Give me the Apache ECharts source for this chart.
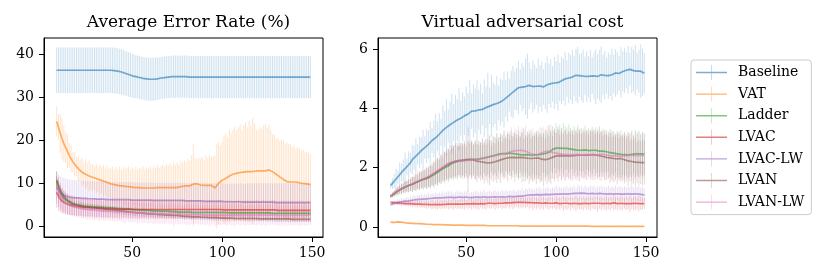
<!DOCTYPE html>
<html><head><meta charset="utf-8">
<script src="https://cdn.jsdelivr.net/npm/echarts@6/dist/echarts.min.js"></script>
<style>html,body{margin:0;padding:0;background:#fff}#c{width:830px;height:277px}</style>
</head><body><div id="c"></div>
<script>
// ---------- DATA ----------
const EPOCH_FIRST = 8, EPOCH_LAST = 149;
const epochs = [];
for (let e = EPOCH_FIRST; e <= EPOCH_LAST; e++) epochs.push(e);

const seriesNames = ['Baseline','VAT','Ladder','LVAC','LVAC-LW','LVAN','LVAN-LW'];
const panelTitles = ['Average Error Rate (%)','Virtual adversarial cost'];
const xTickValues = [50,100,150];
const yTickValuesErr = [0,10,20,30,40];
const yTickValuesCost = [0,2,4,6];

// ----- Panel 1: average error rate (%) : means and error half-widths -----
const errBaselineMean = [
36.3,36.3,36.3,36.3,36.3,36.3,36.3,36.3,36.3,36.3,
36.3,36.3,36.3,36.3,36.3,36.3,36.3,36.3,36.3,36.3,
36.3,36.3,36.3,36.3,36.3,36.3,36.3,36.3,36.3,36.3,
36.3,36.3,36.2,36.2,36.1,36.0,35.9,35.8,35.6,35.5,
35.3,35.2,35.0,34.9,34.8,34.7,34.6,34.5,34.4,34.3,
34.3,34.2,34.2,34.2,34.2,34.3,34.3,34.4,34.5,34.6,
34.6,34.7,34.7,34.7,34.8,34.8,34.8,34.8,34.8,34.8,
34.8,34.8,34.8,34.8,34.7,34.7,34.7,34.7,34.7,34.7,
34.7,34.7,34.7,34.7,34.7,34.7,34.7,34.7,34.7,34.7,
34.7,34.7,34.7,34.7,34.7,34.7,34.7,34.7,34.7,34.7,
34.7,34.7,34.7,34.7,34.7,34.7,34.7,34.7,34.7,34.7,
34.7,34.7,34.7,34.7,34.7,34.7,34.7,34.7,34.7,34.7,
34.7,34.7,34.7,34.7,34.7,34.7,34.7,34.7,34.7,34.7,
34.7,34.7,34.7,34.7,34.7,34.7,34.7,34.7,34.7,34.7,
34.7,34.7];
const errBaselineErr = [
5.3,5.3,5.3,5.3,5.3,5.3,5.3,5.3,5.3,5.3,
5.3,5.3,5.3,5.3,5.3,5.3,5.3,5.3,5.3,5.3,
5.3,5.3,5.3,5.3,5.3,5.3,5.3,5.3,5.3,5.3,
5.3,5.3,5.3,5.3,5.3,5.3,5.3,5.3,5.2,5.2,
5.2,5.1,5.1,5.1,5.0,5.0,5.0,5.0,5.0,5.0,
5.0,5.0,5.0,5.0,5.0,5.0,4.9,4.9,4.9,4.9,
4.9,4.9,4.9,4.9,4.9,4.9,4.9,4.9,4.9,4.9,
4.9,4.9,4.9,4.9,4.9,4.9,4.9,4.9,4.9,4.9,
4.9,4.9,4.9,4.9,4.9,4.9,4.9,4.9,4.9,4.9,
4.9,4.9,4.9,4.9,4.9,4.9,4.9,4.9,4.9,4.9,
4.9,4.9,4.9,4.9,4.9,4.9,4.9,4.9,4.9,4.9,
4.9,4.9,4.9,4.9,4.9,4.9,4.9,4.9,4.9,4.9,
4.9,4.9,4.9,4.9,4.9,4.9,4.9,4.9,4.9,4.9,
4.9,4.9,4.9,4.9,4.9,4.9,4.9,4.9,4.9,4.9,
4.9,4.9];
const errVatMean = [
24.4,23.0,21.6,20.3,19.2,18.3,17.4,16.5,15.7,15.0,
14.4,13.9,13.4,13.0,12.6,12.3,12.1,11.9,11.7,11.5,
11.4,11.2,11.1,10.9,10.8,10.7,10.5,10.3,10.2,10.0,
9.9,9.8,9.7,9.6,9.5,9.4,9.4,9.3,9.3,9.2,
9.2,9.1,9.1,9.1,9.0,9.0,9.0,9.0,8.9,8.9,
8.9,8.9,8.9,8.9,8.9,8.9,9.0,9.0,9.0,9.0,
9.0,9.0,9.0,9.0,9.0,9.0,9.0,9.1,9.1,9.2,
9.3,9.3,9.4,9.4,9.4,9.5,9.8,9.9,9.9,9.7,
9.6,9.5,9.5,9.6,9.5,9.5,9.5,9.1,8.9,9.3,
10.0,10.4,10.7,10.9,11.1,11.4,11.7,11.9,12.1,12.2,
12.3,12.4,12.5,12.6,12.6,12.6,12.7,12.7,12.7,12.8,
12.8,12.8,12.9,12.9,12.9,12.9,12.9,13.0,13.1,12.9,
12.7,12.4,12.1,11.8,11.5,11.2,10.9,10.6,10.4,10.3,
10.3,10.3,10.3,10.2,10.2,10.1,10.0,9.9,9.9,9.8,
9.8,9.7];
const errVatErr = [
3.5,3.0,4.5,4.8,4.2,3.6,3.9,2.9,3.1,2.4,
2.8,2.2,2.9,2.5,3.3,2.7,3.5,2.8,3.6,3.0,
3.2,2.7,3.4,2.9,3.5,3.0,3.7,3.2,3.9,3.4,
3.6,4.1,3.5,4.2,3.8,4.4,3.7,4.5,4.0,4.3,
4.7,3.9,4.6,4.1,4.8,4.2,4.6,4.4,4.9,4.3,
4.8,4.5,5.0,4.4,5.1,4.7,5.3,4.6,5.0,5.4,
4.9,5.5,5.1,5.6,5.0,5.8,5.3,5.7,5.2,6.0,
5.5,6.1,5.6,6.3,5.9,7.0,9.2,6.0,5.7,6.3,
6.1,6.6,6.0,6.9,6.3,7.0,6.6,7.2,7.5,9.8,
9.6,8.4,9.0,10.2,10.5,9.3,10.8,9.9,10.4,11.0,
10.1,10.6,11.2,9.8,10.9,11.5,10.3,11.8,10.6,12.4,
11.0,9.6,9.3,10.2,9.8,10.6,10.9,9.9,10.5,9.4,
8.6,8.9,8.3,8.8,8.4,8.9,9.0,8.6,9.1,8.8,
8.7,8.1,8.5,7.8,8.2,7.9,7.6,8.0,7.4,7.6,
7.3,7.1];
const errLadderMean = [
10.5,8.9,7.9,7.1,6.5,6.1,5.8,5.5,5.3,5.2,
5.1,5.0,4.9,4.9,4.8,4.8,4.7,4.7,4.6,4.6,
4.6,4.5,4.5,4.5,4.4,4.4,4.4,4.3,4.3,4.3,
4.3,4.2,4.2,4.2,4.1,4.1,4.1,4.1,4.0,4.0,
4.0,4.0,3.9,3.9,3.9,3.9,3.8,3.8,3.8,3.8,
3.7,3.7,3.7,3.7,3.6,3.6,3.6,3.6,3.5,3.5,
3.5,3.5,3.5,3.4,3.4,3.4,3.4,3.4,3.3,3.3,
3.3,3.3,3.3,3.3,3.3,3.2,3.2,3.2,3.2,3.2,
3.2,3.2,3.2,3.2,3.2,3.2,3.2,3.2,3.2,3.2,
3.2,3.2,3.2,3.2,3.2,3.1,3.1,3.1,3.1,3.1,
3.1,3.1,3.1,3.1,3.1,3.1,3.1,3.1,3.1,3.1,
3.1,3.1,3.1,3.1,3.1,3.1,3.1,3.1,3.1,3.1,
3.0,3.0,3.0,3.0,3.0,3.0,3.0,3.0,3.0,3.0,
3.0,3.0,3.0,3.0,3.0,3.0,3.0,3.0,3.0,3.0,
3.0,3.0];
const errLadderErr = [
1.2,1.0,0.9,0.8,0.7,0.7,0.6,0.6,0.6,0.5,
0.5,0.5,0.5,0.5,0.5,0.5,0.5,0.5,0.5,0.5,
0.5,0.5,0.5,0.5,0.5,0.5,0.5,0.5,0.5,0.5,
0.5,0.5,0.5,0.5,0.5,0.5,0.5,0.5,0.5,0.5,
0.5,0.5,0.5,0.5,0.5,0.5,0.5,0.5,0.5,0.5,
0.5,0.5,0.5,0.5,0.5,0.5,0.5,0.5,0.5,0.5,
0.4,0.4,0.4,0.4,0.4,0.4,0.4,0.4,0.4,0.4,
0.4,0.4,0.4,0.4,0.4,0.4,0.4,0.4,0.4,0.4,
0.4,0.4,0.4,0.4,0.4,0.4,0.4,0.4,0.4,0.4,
0.4,0.4,0.4,0.4,0.4,0.4,0.4,0.4,0.4,0.4,
0.4,0.4,0.4,0.4,0.4,0.4,0.4,0.4,0.4,0.4,
0.4,0.4,0.4,0.4,0.4,0.4,0.4,0.4,0.4,0.4,
0.4,0.4,0.4,0.4,0.4,0.4,0.4,0.4,0.4,0.4,
0.4,0.4,0.4,0.4,0.4,0.4,0.4,0.4,0.4,0.4,
0.4,0.4];
const errLvacMean = [
7.9,7.0,6.3,5.8,5.5,5.3,5.1,5.0,4.9,4.8,
4.7,4.6,4.6,4.5,4.5,4.4,4.4,4.4,4.3,4.3,
4.3,4.3,4.2,4.2,4.2,4.2,4.1,4.1,4.1,4.1,
4.1,4.1,4.0,4.0,4.0,4.0,4.0,4.0,4.0,4.0,
4.0,4.0,3.9,3.9,3.9,3.9,3.9,3.9,3.9,3.9,
3.9,3.9,3.9,3.9,3.9,3.9,3.9,3.9,3.9,3.9,
3.9,3.9,3.9,3.9,3.9,3.9,3.9,3.9,3.9,3.9,
3.9,3.9,3.9,3.9,3.9,3.9,3.9,3.9,3.9,3.9,
3.9,3.9,3.9,3.9,3.9,3.9,3.9,3.9,3.9,3.9,
3.9,3.9,3.9,3.8,3.8,3.8,3.8,3.8,3.8,3.8,
3.8,3.8,3.8,3.8,3.8,3.8,3.8,3.8,3.8,3.8,
3.8,3.8,3.8,3.8,3.8,3.8,3.8,3.8,3.8,3.8,
3.8,3.8,3.7,3.7,3.7,3.7,3.7,3.7,3.7,3.7,
3.7,3.7,3.7,3.7,3.7,3.7,3.7,3.7,3.7,3.7,
3.7,3.7];
const errLvacErr = [
3.6,3.4,3.0,2.8,2.6,2.5,2.4,2.4,2.3,2.3,
2.2,2.3,2.2,2.1,2.2,2.3,2.2,2.2,2.1,2.2,
2.2,2.3,2.2,2.1,2.2,2.3,2.2,2.2,2.1,2.2,
2.2,2.3,2.2,2.1,2.2,2.3,2.2,2.2,2.1,2.2,
2.2,2.3,2.2,2.1,2.2,2.3,2.2,2.2,2.1,2.2,
2.2,2.3,2.2,2.1,2.2,2.3,2.2,2.2,2.1,2.2,
2.2,2.3,2.2,2.1,2.2,2.3,2.2,2.2,2.1,2.2,
2.2,2.3,2.2,2.1,2.2,2.3,2.2,2.2,2.1,2.2,
2.2,2.3,2.2,2.1,2.2,2.3,2.2,2.2,2.1,2.2,
2.2,2.3,2.2,2.1,2.2,2.3,2.2,2.2,2.1,2.2,
2.2,2.3,2.2,2.1,2.2,2.3,2.2,2.2,2.1,2.2,
2.2,2.3,2.2,2.1,2.2,2.3,2.2,2.2,2.1,2.2,
2.2,2.3,2.2,2.1,2.2,2.3,2.2,2.2,2.1,2.2,
2.2,2.3,2.2,2.1,2.2,2.3,2.2,2.2,2.1,2.2,
2.2,2.2];
const errLvacLwMean = [
9.0,8.3,7.8,7.4,7.2,7.0,6.9,6.8,6.7,6.7,
6.6,6.6,6.6,6.5,6.5,6.5,6.5,6.4,6.4,6.4,
6.4,6.4,6.3,6.3,6.3,6.3,6.3,6.3,6.2,6.2,
6.2,6.2,6.2,6.2,6.2,6.2,6.2,6.2,6.2,6.2,
6.2,6.2,6.1,6.1,6.1,6.1,6.1,6.1,6.1,6.1,
6.1,6.1,6.1,6.1,6.0,6.0,6.0,6.0,6.0,6.0,
6.0,6.0,6.0,6.0,6.0,6.0,6.0,6.0,6.0,6.0,
6.0,6.0,5.9,5.9,5.9,5.9,5.9,5.9,5.9,5.9,
5.9,5.9,5.8,5.8,5.8,5.8,5.8,5.8,5.8,5.8,
5.8,5.8,5.8,5.7,5.7,5.7,5.7,5.7,5.7,5.7,
5.7,5.7,5.7,5.7,5.6,5.6,5.6,5.6,5.6,5.6,
5.6,5.6,5.6,5.6,5.6,5.6,5.6,5.6,5.6,5.6,
5.6,5.6,5.5,5.5,5.5,5.5,5.5,5.5,5.5,5.5,
5.5,5.5,5.5,5.5,5.5,5.5,5.5,5.5,5.5,5.5,
5.5,5.5];
const errLvacLwErr = [
3.7,3.8,3.9,4.0,4.0,4.1,4.1,4.1,4.1,4.1,
4.1,4.1,4.1,4.1,4.1,4.1,4.1,4.1,4.1,4.1,
4.1,4.1,4.1,4.1,4.1,4.1,4.1,4.1,4.1,4.1,
4.1,4.1,4.1,4.1,4.1,4.1,4.1,4.1,4.1,4.1,
4.1,4.1,4.1,4.1,4.1,4.1,4.1,4.1,4.1,4.1,
4.1,4.1,4.1,4.1,4.1,4.1,4.1,4.1,4.1,4.1,
4.1,4.1,4.1,4.1,4.1,4.1,4.1,4.1,4.1,4.1,
4.1,4.1,4.1,4.1,4.1,4.1,4.1,4.1,4.1,4.1,
4.1,4.1,4.2,4.2,4.2,4.2,4.2,4.2,4.2,4.2,
4.2,4.2,4.2,4.2,4.2,4.2,4.2,4.2,4.2,4.2,
4.2,4.2,4.3,4.3,4.3,4.3,4.4,4.4,4.4,4.4,
4.4,4.4,4.4,4.4,4.4,4.4,4.4,4.4,4.4,4.4,
4.4,4.4,4.5,4.5,4.5,4.5,4.5,4.5,4.5,4.5,
4.5,4.5,4.5,4.5,4.5,4.5,4.5,4.5,4.5,4.5,
4.5,4.5];
const errLvanMean = [
10.8,9.6,8.5,7.6,7.0,6.5,6.1,5.8,5.5,5.3,
5.1,5.0,4.9,4.8,4.7,4.6,4.5,4.5,4.4,4.4,
4.3,4.3,4.2,4.2,4.1,4.1,4.0,4.0,3.9,3.9,
3.8,3.8,3.7,3.7,3.6,3.6,3.5,3.5,3.4,3.4,
3.3,3.3,3.3,3.2,3.2,3.1,3.1,3.1,3.0,3.0,
3.0,2.9,2.9,2.9,2.8,2.8,2.8,2.7,2.7,2.7,
2.6,2.6,2.6,2.6,2.5,2.5,2.5,2.5,2.4,2.4,
2.4,2.3,2.3,2.3,2.3,2.2,2.2,2.2,2.2,2.2,
2.1,2.1,2.1,2.1,2.1,2.0,2.0,2.0,2.0,2.0,
2.0,1.9,1.9,1.9,1.9,1.9,1.9,1.9,1.9,1.8,
1.8,1.8,1.8,1.8,1.8,1.8,1.8,1.8,1.8,1.8,
1.8,1.8,1.7,1.7,1.7,1.7,1.7,1.7,1.7,1.7,
1.7,1.7,1.7,1.7,1.7,1.7,1.7,1.7,1.7,1.7,
1.6,1.6,1.6,1.6,1.6,1.6,1.6,1.6,1.6,1.6,
1.6,1.6];
const errLvanErr = [
2.0,1.8,1.6,1.4,1.3,1.2,1.1,1.1,1.0,1.0,
1.0,0.9,0.9,0.9,0.9,0.9,0.8,0.8,0.8,0.8,
0.8,0.8,0.8,0.8,0.8,0.8,0.8,0.8,0.8,0.8,
0.8,0.8,0.8,0.8,0.8,0.8,0.8,0.8,0.8,0.8,
0.8,0.8,0.8,0.8,0.8,0.8,0.8,0.8,0.8,0.8,
0.7,0.7,0.7,0.7,0.7,0.7,0.7,0.7,0.7,0.7,
0.7,0.7,0.7,0.7,0.7,0.7,0.7,0.7,0.7,0.7,
0.7,0.7,0.7,0.7,0.7,0.7,0.7,0.7,0.7,0.7,
0.7,0.7,0.7,0.7,0.7,0.7,0.7,0.7,0.7,0.7,
0.7,0.7,0.7,0.7,0.7,0.7,0.7,0.7,0.7,0.7,
0.6,0.6,0.6,0.6,0.6,0.6,0.6,0.6,0.6,0.6,
0.6,0.6,0.6,0.6,0.6,0.6,0.6,0.6,0.6,0.6,
0.6,0.6,0.6,0.6,0.6,0.6,0.6,0.6,0.6,0.6,
0.6,0.6,0.6,0.6,0.6,0.6,0.6,0.6,0.6,0.6,
0.6,0.6];
const errLvanLwMean = [
9.5,8.0,7.0,6.3,5.8,5.4,5.1,4.9,4.7,4.6,
4.5,4.4,4.3,4.2,4.1,4.1,4.0,4.0,3.9,3.9,
3.8,3.8,3.8,3.7,3.7,3.7,3.6,3.6,3.6,3.5,
3.5,3.5,3.5,3.4,3.4,3.4,3.4,3.3,3.3,3.3,
3.3,3.2,3.2,3.2,3.2,3.1,3.1,3.1,3.1,3.0,
3.0,3.0,3.0,3.0,3.0,2.9,2.9,2.9,2.9,2.9,
2.9,2.9,2.9,2.8,2.8,2.8,2.8,2.8,2.8,2.7,
2.7,2.7,2.7,2.7,2.7,2.7,2.7,2.7,2.7,2.7,
2.7,2.7,2.6,2.6,2.6,2.6,2.6,2.6,2.6,2.6,
2.6,2.6,2.6,2.6,2.6,2.6,2.6,2.6,2.6,2.6,
2.6,2.6,2.6,2.6,2.6,2.6,2.6,2.6,2.6,2.6,
2.6,2.6,2.6,2.6,2.6,2.6,2.6,2.6,2.6,2.6,
2.6,2.6,2.5,2.5,2.5,2.5,2.5,2.5,2.5,2.5,
2.5,2.5,2.5,2.5,2.5,2.5,2.5,2.5,2.5,2.5,
2.5,2.5];
const errLvanLwErr = [
3.2,3.0,2.8,2.6,2.5,2.4,2.4,2.3,2.3,2.3,
2.3,2.2,2.3,2.4,2.2,2.3,2.2,2.5,2.3,2.2,
2.3,2.4,2.2,2.3,2.6,2.2,2.3,2.4,2.2,2.3,
2.2,2.3,2.5,2.2,2.3,2.2,2.4,2.3,2.6,2.2,
2.3,2.2,2.4,2.3,2.2,2.7,2.3,2.2,2.4,2.3,
2.2,2.4,2.3,2.2,2.6,2.3,2.2,2.4,2.3,2.2,
2.5,2.3,2.2,2.4,2.3,2.7,2.2,2.3,2.4,2.2,
2.3,2.2,2.5,2.3,2.4,2.2,2.8,2.3,2.2,2.4,
2.3,2.2,2.4,2.3,2.2,2.5,2.3,2.2,2.6,2.3,
2.2,2.4,2.3,2.2,2.5,2.3,2.2,2.4,2.3,2.7,
2.2,2.3,2.4,2.2,2.3,2.5,2.2,2.3,2.4,2.2,
2.3,2.5,2.2,2.3,2.4,2.2,2.6,2.3,2.2,2.4,
2.2,2.3,2.4,2.2,2.3,2.5,2.2,2.3,2.4,2.2,
2.3,2.2,2.4,2.3,2.2,2.5,2.3,2.2,2.4,2.3,
2.2,2.3];

// ----- Panel 2: virtual adversarial cost : means and error half-widths -----
const costBaselineMean = [
1.40,1.47,1.55,1.62,1.68,1.76,1.84,1.90,1.97,2.03,
2.10,2.17,2.27,2.33,2.39,2.45,2.51,2.58,2.62,2.68,
2.73,2.79,2.85,2.92,2.97,3.01,3.06,3.13,3.19,3.26,
3.31,3.36,3.41,3.45,3.50,3.53,3.57,3.61,3.64,3.67,
3.72,3.75,3.78,3.81,3.86,3.91,3.92,3.92,3.93,3.95,
3.98,3.97,4.00,4.03,4.06,4.08,4.10,4.13,4.14,4.17,
4.20,4.22,4.26,4.30,4.34,4.40,4.45,4.50,4.55,4.60,
4.66,4.70,4.72,4.72,4.71,4.74,4.76,4.78,4.76,4.74,
4.73,4.75,4.77,4.76,4.74,4.73,4.76,4.80,4.83,4.84,
4.83,4.86,4.88,4.87,4.90,4.94,4.98,5.00,5.01,5.03,
5.05,5.06,5.09,5.12,5.13,5.11,5.07,5.09,5.10,5.08,
5.07,5.09,5.11,5.10,5.07,5.08,5.12,5.14,5.13,5.12,
5.11,5.11,5.12,5.14,5.17,5.20,5.19,5.18,5.22,5.25,
5.28,5.29,5.31,5.32,5.30,5.28,5.29,5.26,5.25,5.26,
5.22,5.19];
const costBaselineErr = [
0.10,0.18,0.25,0.35,0.22,0.42,0.30,0.38,0.55,0.28,
0.45,0.33,0.50,0.40,0.60,0.35,0.52,0.44,0.66,0.38,
0.58,0.47,0.70,0.42,0.62,0.80,0.50,0.72,0.45,0.85,
0.60,0.95,0.55,0.78,1.00,0.62,0.88,0.70,1.05,0.58,
0.82,0.65,0.95,0.72,1.10,0.60,0.90,0.75,1.02,0.68,
0.85,0.55,0.98,0.70,1.15,0.62,1.05,0.75,0.66,0.92,
0.58,0.80,0.70,0.95,0.62,0.85,0.55,0.78,0.88,0.65,
0.72,0.90,0.60,0.82,0.70,0.95,1.10,0.80,0.58,0.88,
0.75,0.62,0.92,0.70,0.85,0.60,0.78,0.95,0.68,0.82,
0.60,0.88,0.72,0.95,0.65,0.80,0.70,0.90,0.62,0.85,
0.75,0.92,0.68,0.88,0.95,0.72,0.80,0.90,0.65,0.85,
0.70,0.88,0.62,0.80,0.92,0.75,0.85,0.95,0.68,0.82,
0.60,0.78,0.70,0.88,0.65,0.80,0.72,0.58,0.85,0.68,
0.75,0.62,0.80,0.55,0.78,0.70,0.85,0.62,0.72,0.90,
0.80,0.68];
const costVatMean = [
0.16,0.16,0.15,0.16,0.17,0.17,0.16,0.15,0.14,0.14,
0.13,0.13,0.12,0.12,0.11,0.11,0.11,0.10,0.10,0.10,
0.09,0.09,0.09,0.09,0.08,0.08,0.08,0.08,0.08,0.07,
0.07,0.07,0.07,0.07,0.06,0.06,0.06,0.06,0.06,0.06,
0.06,0.06,0.05,0.05,0.05,0.05,0.05,0.05,0.05,0.05,
0.05,0.05,0.05,0.04,0.04,0.04,0.04,0.04,0.04,0.04,
0.04,0.04,0.04,0.04,0.04,0.04,0.04,0.04,0.04,0.04,
0.04,0.04,0.03,0.03,0.03,0.03,0.03,0.03,0.03,0.03,
0.03,0.03,0.03,0.03,0.03,0.03,0.03,0.03,0.03,0.03,
0.03,0.03,0.03,0.03,0.03,0.03,0.03,0.03,0.03,0.03,
0.03,0.03,0.03,0.03,0.03,0.03,0.03,0.03,0.03,0.03,
0.03,0.02,0.02,0.02,0.02,0.02,0.02,0.02,0.02,0.02,
0.02,0.02,0.02,0.02,0.02,0.02,0.02,0.02,0.02,0.02,
0.02,0.02,0.02,0.02,0.02,0.02,0.02,0.02,0.02,0.02,
0.02,0.02];
const costVatErr = [
0.03,0.04,0.03,0.03,0.02,0.02,0.02,0.02,0.02,0.02,
0.01,0.01,0.01,0.01,0.01,0.01,0.01,0.01,0.01,0.01,
0.01,0.01,0.01,0.01,0.01,0.01,0.01,0.01,0.01,0.01,
0.01,0.01,0.01,0.01,0.01,0.01,0.01,0.01,0.01,0.01,
0.01,0.01,0.01,0.01,0.01,0.01,0.01,0.01,0.01,0.01,
0.01,0.01,0.01,0.01,0.01,0.01,0.01,0.01,0.01,0.01,
0.01,0.01,0.01,0.01,0.01,0.01,0.01,0.01,0.01,0.01,
0.01,0.01,0.01,0.01,0.01,0.01,0.01,0.01,0.01,0.01,
0.01,0.01,0.01,0.01,0.01,0.01,0.01,0.01,0.01,0.01,
0.01,0.01,0.01,0.01,0.01,0.01,0.01,0.01,0.01,0.01,
0.01,0.01,0.01,0.01,0.01,0.01,0.01,0.01,0.01,0.01,
0.01,0.01,0.01,0.01,0.01,0.01,0.01,0.01,0.01,0.01,
0.01,0.01,0.01,0.01,0.01,0.01,0.01,0.01,0.01,0.01,
0.01,0.01,0.01,0.01,0.01,0.01,0.01,0.01,0.01,0.01,
0.01,0.01];
const costLadderMean = [
1.04,1.08,1.12,1.17,1.21,1.25,1.28,1.31,1.34,1.37,
1.40,1.42,1.44,1.47,1.50,1.52,1.55,1.57,1.60,1.62,
1.64,1.66,1.69,1.72,1.76,1.80,1.84,1.88,1.93,1.97,
2.00,2.03,2.06,2.10,2.14,2.17,2.19,2.21,2.23,2.24,
2.24,2.25,2.26,2.27,2.27,2.28,2.28,2.27,2.28,2.30,
2.31,2.32,2.33,2.34,2.36,2.37,2.39,2.40,2.42,2.44,
2.46,2.47,2.48,2.48,2.47,2.48,2.49,2.49,2.48,2.47,
2.46,2.45,2.44,2.44,2.43,2.43,2.44,2.43,2.42,2.43,
2.43,2.44,2.44,2.45,2.46,2.47,2.48,2.50,2.52,2.57,
2.62,2.65,2.66,2.67,2.66,2.66,2.65,2.66,2.65,2.64,
2.63,2.62,2.61,2.60,2.59,2.58,2.59,2.60,2.60,2.59,
2.58,2.58,2.59,2.60,2.59,2.57,2.56,2.55,2.56,2.55,
2.54,2.53,2.51,2.50,2.49,2.48,2.47,2.46,2.45,2.44,
2.44,2.43,2.43,2.44,2.45,2.46,2.47,2.48,2.47,2.46,
2.47,2.46];
const costLadderErr = [
0.05,0.08,0.10,0.12,0.15,0.13,0.18,0.16,0.20,0.17,
0.22,0.19,0.25,0.21,0.28,0.23,0.30,0.26,0.33,0.28,
0.35,0.30,0.38,0.32,0.42,0.36,0.45,0.38,0.48,0.40,
0.52,0.44,0.55,0.47,0.50,0.58,0.45,0.53,0.48,0.60,
0.50,0.56,0.46,0.62,0.52,0.58,0.48,0.64,0.54,0.60,
0.55,0.66,0.50,0.62,0.57,0.70,0.52,0.65,0.60,0.72,
0.56,0.68,0.62,0.75,0.58,0.70,0.64,0.78,0.60,0.72,
0.66,0.80,0.62,0.74,0.90,0.65,0.78,0.70,0.85,0.64,
0.76,0.68,0.82,0.72,0.88,0.66,0.80,0.74,0.92,0.70,
0.78,0.65,0.84,0.72,0.80,0.68,0.86,0.74,0.70,0.82,
0.72,0.66,0.80,0.70,0.85,0.68,0.76,0.72,0.82,0.66,
0.74,0.70,0.80,0.64,0.78,0.72,0.84,0.68,0.76,0.70,
0.72,0.66,0.80,0.70,0.75,0.64,0.78,0.70,0.82,0.68,
0.74,0.66,0.78,0.70,0.76,0.64,0.80,0.72,0.78,0.68,
0.75,0.70];
const costLvacMean = [
0.83,0.82,0.82,0.81,0.81,0.80,0.80,0.80,0.79,0.79,
0.79,0.78,0.78,0.78,0.77,0.77,0.77,0.76,0.76,0.76,
0.76,0.75,0.75,0.75,0.75,0.75,0.76,0.75,0.75,0.76,
0.76,0.76,0.77,0.76,0.77,0.77,0.77,0.76,0.77,0.78,
0.77,0.78,0.78,0.77,0.78,0.78,0.79,0.78,0.78,0.79,
0.79,0.79,0.78,0.79,0.80,0.79,0.80,0.80,0.79,0.80,
0.80,0.81,0.80,0.81,0.81,0.82,0.81,0.82,0.82,0.83,
0.83,0.82,0.83,0.84,0.83,0.82,0.82,0.81,0.82,0.81,
0.81,0.80,0.81,0.81,0.80,0.80,0.81,0.80,0.80,0.81,
0.80,0.80,0.81,0.80,0.79,0.80,0.80,0.79,0.80,0.80,
0.79,0.80,0.80,0.79,0.79,0.80,0.79,0.79,0.80,0.80,
0.79,0.79,0.80,0.81,0.80,0.79,0.80,0.80,0.79,0.79,
0.80,0.79,0.79,0.80,0.81,0.80,0.79,0.79,0.80,0.79,
0.79,0.80,0.79,0.78,0.79,0.79,0.80,0.79,0.79,0.79,
0.79,0.79];
const costLvacErr = [
0.04,0.05,0.06,0.05,0.07,0.06,0.08,0.07,0.09,0.08,
0.10,0.08,0.12,0.09,0.11,0.13,0.10,0.14,0.11,0.12,
0.15,0.11,0.13,0.16,0.12,0.14,0.17,0.12,0.15,0.13,
0.16,0.12,0.18,0.14,0.15,0.19,0.13,0.16,0.14,0.18,
0.15,0.20,0.13,0.17,0.15,0.19,0.14,0.18,0.16,0.21,
0.14,0.18,0.16,0.20,0.15,0.17,0.19,0.14,0.22,0.16,
0.18,0.15,0.21,0.17,0.19,0.14,0.20,0.16,0.23,0.18,
0.15,0.20,0.17,0.22,0.16,0.19,0.15,0.21,0.18,0.24,
0.17,0.20,0.16,0.23,0.18,0.21,0.15,0.19,0.22,0.17,
0.20,0.16,0.24,0.18,0.21,0.17,0.25,0.19,0.22,0.18,
0.23,0.17,0.20,0.26,0.18,0.22,0.19,0.24,0.17,0.21,
0.19,0.25,0.18,0.22,0.20,0.27,0.19,0.23,0.18,0.21,
0.24,0.19,0.22,0.18,0.26,0.20,0.23,0.19,0.25,0.21,
0.18,0.23,0.20,0.27,0.19,0.22,0.24,0.20,0.26,0.22,
0.21,0.19];
const costLvacLwMean = [
0.75,0.78,0.80,0.82,0.83,0.84,0.85,0.86,0.87,0.87,
0.88,0.89,0.90,0.91,0.92,0.93,0.93,0.94,0.94,0.95,
0.95,0.96,0.96,0.96,0.97,0.97,0.98,0.98,0.98,0.99,
0.99,1.00,1.00,1.01,1.00,1.00,0.99,1.00,1.01,1.01,
1.00,1.00,1.01,1.00,0.99,0.99,1.00,1.01,1.01,1.00,
1.00,1.01,1.02,1.01,1.00,1.00,1.01,1.02,1.02,1.01,
1.01,1.02,1.02,1.01,1.01,1.02,1.03,1.03,1.02,1.02,
1.03,1.04,1.04,1.05,1.05,1.06,1.07,1.07,1.08,1.08,
1.08,1.09,1.09,1.08,1.08,1.09,1.10,1.10,1.09,1.10,
1.10,1.11,1.11,1.10,1.11,1.12,1.12,1.11,1.11,1.12,
1.12,1.13,1.13,1.12,1.13,1.14,1.14,1.13,1.13,1.12,
1.12,1.13,1.13,1.12,1.12,1.13,1.13,1.12,1.12,1.11,
1.11,1.12,1.12,1.12,1.11,1.11,1.12,1.12,1.11,1.11,
1.11,1.12,1.12,1.12,1.11,1.11,1.12,1.12,1.11,1.10,
1.09,1.08];
const costLvacLwErr = [
0.05,0.06,0.08,0.07,0.10,0.08,0.12,0.09,0.11,0.13,
0.10,0.14,0.12,0.16,0.11,0.15,0.13,0.18,0.12,0.16,
0.14,0.19,0.13,0.17,0.15,0.20,0.14,0.18,0.16,0.21,
0.15,0.19,0.22,0.16,0.20,0.14,0.18,0.23,0.17,0.19,
0.16,0.21,0.18,0.24,0.15,0.20,0.17,0.22,0.19,0.16,
0.21,0.18,0.24,0.16,0.20,0.23,0.17,0.19,0.22,0.18,
0.20,0.16,0.23,0.19,0.25,0.17,0.21,0.18,0.24,0.20,
0.17,0.22,0.19,0.26,0.18,0.23,0.20,0.25,0.19,0.22,
0.18,0.24,0.21,0.27,0.19,0.23,0.20,0.26,0.22,0.18,
0.23,0.20,0.28,0.21,0.25,0.19,0.24,0.22,0.27,0.20,
0.24,0.21,0.26,0.19,0.30,0.22,0.25,0.20,0.27,0.23,
0.21,0.26,0.22,0.29,0.20,0.24,0.23,0.27,0.21,0.25,
0.22,0.28,0.20,0.25,0.23,0.30,0.21,0.26,0.24,0.22,
0.27,0.21,0.25,0.23,0.32,0.22,0.26,0.24,0.29,0.23,
0.26,0.22];
const costLvanMean = [
1.03,1.08,1.13,1.18,1.22,1.26,1.29,1.32,1.35,1.37,
1.40,1.42,1.44,1.47,1.50,1.53,1.56,1.59,1.61,1.63,
1.65,1.68,1.72,1.76,1.80,1.84,1.88,1.92,1.96,2.00,
2.04,2.08,2.12,2.15,2.18,2.20,2.22,2.23,2.24,2.25,
2.26,2.27,2.27,2.28,2.28,2.27,2.26,2.24,2.22,2.21,
2.20,2.19,2.18,2.17,2.16,2.16,2.17,2.18,2.20,2.22,
2.24,2.26,2.28,2.30,2.32,2.33,2.34,2.35,2.35,2.34,
2.34,2.35,2.35,2.34,2.34,2.33,2.32,2.32,2.31,2.31,
2.32,2.33,2.33,2.31,2.29,2.27,2.27,2.28,2.30,2.32,
2.35,2.38,2.40,2.41,2.41,2.40,2.40,2.41,2.41,2.41,
2.40,2.40,2.41,2.41,2.42,2.42,2.42,2.43,2.43,2.42,
2.42,2.43,2.44,2.44,2.43,2.42,2.41,2.40,2.38,2.36,
2.35,2.34,2.33,2.32,2.31,2.31,2.30,2.31,2.31,2.29,
2.27,2.25,2.23,2.22,2.21,2.20,2.19,2.18,2.18,2.17,
2.17,2.17];
const costLvanErr = [
0.05,0.07,0.10,0.09,0.14,0.12,0.17,0.15,0.19,0.18,
0.23,0.20,0.26,0.22,0.29,0.25,0.32,0.27,0.34,0.30,
0.37,0.33,0.40,0.35,0.43,0.38,0.46,0.41,0.49,0.43,
0.51,0.46,0.54,0.48,0.57,0.50,0.55,0.62,0.49,0.58,
0.53,0.64,0.56,1.08,0.58,0.66,0.54,0.62,0.70,0.56,
0.64,0.58,0.72,0.60,0.68,0.75,0.58,0.66,0.62,0.74,
0.64,0.78,0.60,0.70,0.66,0.80,0.62,0.74,0.68,0.82,
0.66,0.76,0.70,0.84,0.64,0.78,0.72,0.86,0.68,0.80,
0.74,0.88,0.70,0.82,0.76,0.90,0.72,0.84,0.78,0.86,
0.72,0.84,0.76,0.88,0.70,0.82,0.74,0.86,0.72,0.80,
0.76,0.84,0.70,0.82,0.74,0.88,0.72,0.80,0.76,0.84,
0.70,0.82,0.76,0.86,0.72,0.80,0.74,0.84,0.70,0.78,
0.76,0.70,0.84,0.72,0.80,0.74,0.86,0.70,0.78,0.74,
0.80,0.72,0.84,0.70,0.78,0.74,0.82,0.70,0.76,0.72,
0.78,0.74];
const costLvanLwMean = [
1.04,1.09,1.14,1.18,1.22,1.26,1.29,1.32,1.35,1.38,
1.41,1.44,1.46,1.49,1.52,1.55,1.57,1.59,1.62,1.64,
1.67,1.70,1.73,1.77,1.81,1.85,1.90,1.94,1.98,2.02,
2.06,2.10,2.14,2.17,2.19,2.21,2.22,2.23,2.24,2.24,
2.25,2.25,2.24,2.25,2.26,2.27,2.28,2.27,2.26,2.27,
2.29,2.30,2.31,2.33,2.35,2.37,2.38,2.40,2.41,2.42,
2.43,2.45,2.46,2.47,2.49,2.51,2.53,2.55,2.56,2.57,
2.58,2.58,2.59,2.59,2.58,2.56,2.53,2.50,2.47,2.45,
2.44,2.44,2.45,2.47,2.50,2.53,2.55,2.56,2.55,2.54,
2.52,2.50,2.49,2.48,2.47,2.46,2.45,2.44,2.44,2.44,
2.43,2.43,2.44,2.44,2.45,2.44,2.43,2.42,2.43,2.44,
2.45,2.44,2.43,2.42,2.43,2.44,2.45,2.46,2.45,2.44,
2.43,2.42,2.41,2.40,2.40,2.39,2.39,2.38,2.38,2.39,
2.40,2.41,2.41,2.42,2.42,2.41,2.41,2.42,2.42,2.41,
2.41,2.42];
const costLvanLwErr = [
0.06,0.09,0.08,0.13,0.11,0.16,0.14,0.19,0.15,0.21,
0.18,0.24,0.20,0.27,0.22,0.29,0.25,0.31,0.27,0.34,
0.30,0.37,0.33,0.40,0.35,0.44,0.38,0.47,0.41,0.50,
0.44,0.53,0.47,0.56,0.49,0.54,0.60,0.48,0.57,0.51,
0.62,0.53,0.58,0.66,0.50,0.60,0.55,0.68,0.52,0.63,
0.58,0.70,0.54,0.65,0.61,0.74,0.56,0.68,0.63,0.76,
0.60,0.72,0.66,0.80,0.62,0.74,0.68,0.82,0.64,0.76,
0.70,0.84,0.66,0.78,0.72,0.86,0.68,0.80,0.74,0.88,
0.70,0.82,0.76,0.90,0.68,0.84,0.72,0.86,0.78,0.92,
0.74,0.86,0.70,0.82,0.78,0.88,0.72,0.84,0.76,0.80,
0.86,0.70,0.82,0.76,0.88,0.72,0.80,0.74,0.84,0.70,
0.80,0.74,0.86,0.70,0.82,0.76,0.88,0.72,0.78,0.84,
0.70,0.80,0.74,0.86,0.68,0.78,0.72,0.84,0.70,0.76,
0.82,0.70,0.78,0.74,0.86,0.68,0.80,0.72,0.76,0.70,
0.78,0.72];

// ---------- CHART ----------
const colors = ['#1f77b4','#ff7f0e','#2ca02c','#d62728','#9467bd','#8c564b','#e377c2'];
const panelMeans = [
  [errBaselineMean, errVatMean, errLadderMean, errLvacMean, errLvacLwMean, errLvanMean, errLvanLwMean],
  [costBaselineMean, costVatMean, costLadderMean, costLvacMean, costLvacLwMean, costLvanMean, costLvanLwMean]
];
const panelErrs = [
  [errBaselineErr, errVatErr, errLadderErr, errLvacErr, errLvacLwErr, errLvanErr, errLvanLwErr],
  [costBaselineErr, costVatErr, costLadderErr, costLvacErr, costLvacLwErr, costLvanErr, costLvanLwErr]
];
const FONT = 'DejaVu Serif';
const LINE_ALPHA = 0.6, BAR_ALPHA = 0.22;

const bad = [];
panelMeans.forEach((p, pi) => p.forEach((a, k) => {
  if (a.length !== epochs.length) bad.push('m' + pi + k + ':' + a.length);
  if (panelErrs[pi][k].length !== epochs.length) bad.push('e' + pi + k + ':' + panelErrs[pi][k].length);
}));

const series = [];
[0, 1].forEach(pi => {
  seriesNames.forEach((name, k) => {
    const means = panelMeans[pi][k], errs = panelErrs[pi][k];
    series.push({
      type: 'custom', name, xAxisIndex: pi, yAxisIndex: pi, silent: true, animation: false, clip: true,
      data: epochs.map((e, i) => [e, means[i], errs[i]]),
      encode: { x: 0, y: 1 },
      renderItem: (params, api) => {
        const x = api.value(0), m = api.value(1), d = api.value(2);
        const p1 = api.coord([x, m + d]), p2 = api.coord([x, m - d]);
        return { type: 'line', shape: { x1: p1[0], y1: p1[1], x2: p2[0], y2: p2[1] },
          style: { stroke: colors[k], lineWidth: 1, opacity: BAR_ALPHA } };
      }
    });
    series.push({
      type: 'line', name, xAxisIndex: pi, yAxisIndex: pi, silent: true, animation: false,
      symbol: 'none', showSymbol: false,
      data: epochs.map((e, i) => [e, means[i]]),
      lineStyle: { color: colors[k], width: 1.7, opacity: LINE_ALPHA },
      itemStyle: { color: colors[k] }
    });
  });
});

function xAxis(gi) {
  return { type: 'value', gridIndex: gi, min: 0.95, max: 156.05,
    axisLine: { show: true, onZero: false, lineStyle: { color: '#000', width: 1 } },
    axisTick: { show: true, length: 5, lineStyle: { color: '#000' }, customValues: xTickValues },
    axisLabel: { customValues: xTickValues, fontFamily: FONT, fontSize: 14, color: '#000', margin: 9 },
    splitLine: { show: false } };
}
function yAxis(gi, min, max, ticks) {
  return { type: 'value', gridIndex: gi, min, max,
    axisLine: { show: true, onZero: false, lineStyle: { color: '#000', width: 1 } },
    axisTick: { show: true, length: 5, lineStyle: { color: '#000' }, customValues: ticks },
    axisLabel: { customValues: ticks, fontFamily: FONT, fontSize: 14, color: '#000', margin: 10 },
    splitLine: { show: false } };
}

const legendIcon = 'path://M0,6.8L31,6.8L31,8.2L0,8.2Z M15.3,0L15.7,0L15.7,15L15.3,15Z';

const option = {
  backgroundColor: '#fff',
  animation: false,
  title: [
    { text: panelTitles[0], left: 183.5, top: 9, textAlign: 'center',
      textStyle: { fontFamily: FONT, fontSize: 17, fontWeight: 'normal', color: '#000' } },
    { text: panelTitles[1], left: 517.5, top: 9, textAlign: 'center',
      textStyle: { fontFamily: FONT, fontSize: 17, fontWeight: 'normal', color: '#000' } }
  ],
  grid: [
    { left: 44, top: 38, width: 279, height: 199, show: true, borderColor: '#000', borderWidth: 1, backgroundColor: 'transparent' },
    { left: 378, top: 38, width: 279, height: 199, show: true, borderColor: '#000', borderWidth: 1, backgroundColor: 'transparent' }
  ],
  xAxis: [xAxis(0), xAxis(1)],
  yAxis: [yAxis(0, -2.5, 43.8, yTickValuesErr), yAxis(1, -0.34, 6.38, yTickValuesCost)],
  legend: {
    orient: 'vertical', left: 691, top: 60,
    padding: [5, 7, 5, 5], itemWidth: 31, itemHeight: 15, itemGap: 6.6,
    borderColor: '#cccccc', borderWidth: 1, borderRadius: 3, backgroundColor: '#fff',
    selectedMode: false,
    textStyle: { fontFamily: FONT, fontSize: 14, color: '#000', padding: [0, 0, 0, 6] },
    data: seriesNames.map((n, k) => ({ name: n, icon: legendIcon, itemStyle: { color: colors[k], opacity: LINE_ALPHA } }))
  },
  graphic: bad.length ? [{ type: 'text', left: 5, top: 260, style: { text: 'BAD ' + bad.join(' '), fill: 'red', fontSize: 10 } }] : [],
  series
};

const chart = echarts.init(document.getElementById('c'), null, { renderer: 'canvas' });
chart.setOption(option);
</script>
</body></html>
